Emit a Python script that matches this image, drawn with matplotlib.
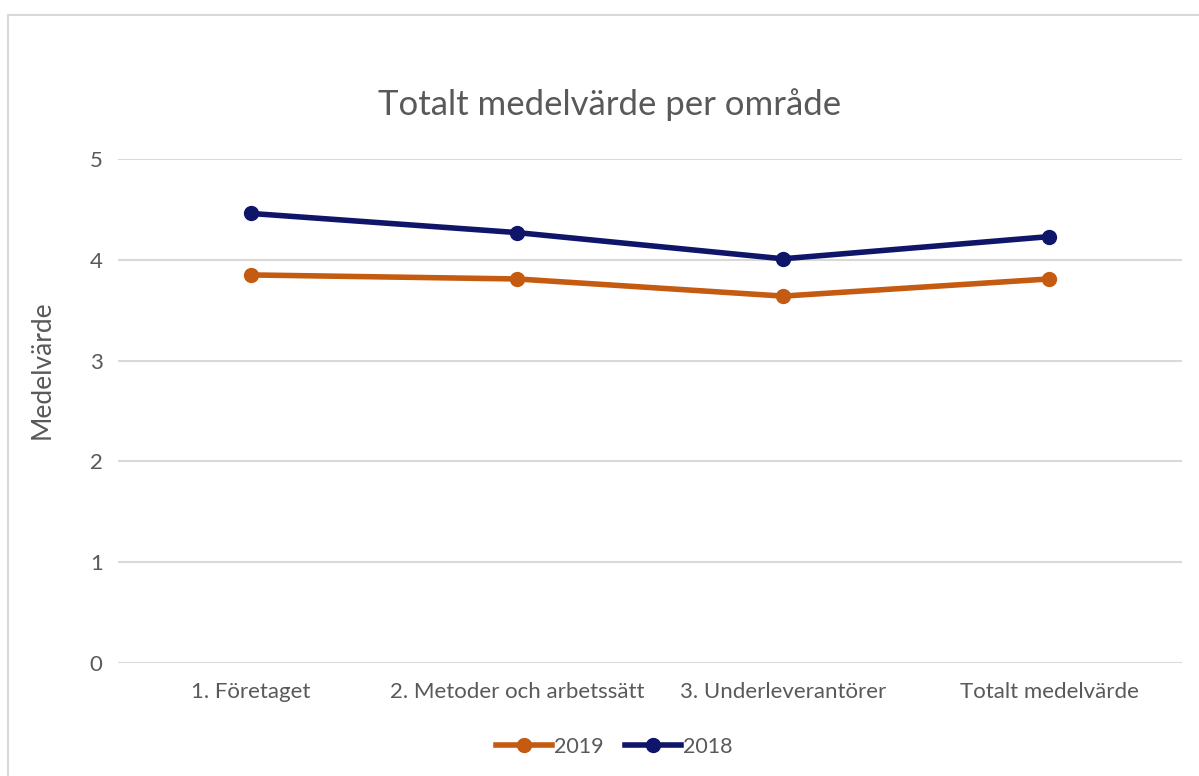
import matplotlib
matplotlib.use("Agg")
import matplotlib.pyplot as plt
from matplotlib.patches import Rectangle

categories = ["1. Företaget", "2. Metoder och arbetssätt", "3. Underleverantörer", "Totalt medelvärde"]
values_2019 = [3.85, 3.81, 3.64, 3.81]
values_2018 = [4.46, 4.27, 4.01, 4.23]
yticks = [0, 1, 2, 3, 4, 5]

plt.rcParams['font.family'] = ['Lato', 'DejaVu Sans']
txt = '#595959'
grid = '#D9D9D9'

fig = plt.figure(figsize=(11.99, 7.76), dpi=100)
W, H = 1199, 776
fig.patches.append(Rectangle((8 / W, -0.1), 1.2, 1 - 15 / H + 0.1, transform=fig.transFigure,
                             fill=False, edgecolor=grid, linewidth=1.5))

ax = fig.add_axes([118 / W, 1 - 663 / H, (1182 - 118) / W, (663 - 159) / H])
x = list(range(len(categories)))
ax.plot(x, values_2019, color='#C55A11', lw=4, marker='o', ms=10, label='2019', zorder=3)
ax.plot(x, values_2018, color='#0F1569', lw=4, marker='o', ms=10, label='2018', zorder=3)

ax.set_xlim(-0.5, len(categories) - 0.5)
ax.set_ylim(0, 5)
ax.set_yticks(yticks)
ax.set_xticks(x)
ax.set_xticklabels(categories)
ax.tick_params(axis='both', length=0, colors=txt, labelsize=16)
ax.tick_params(axis='y', pad=11)
ax.tick_params(axis='x', pad=14)
ax.grid(axis='y', color=grid, lw=1.5)
ax.set_axisbelow(True)
for s in ax.spines.values():
    s.set_visible(False)
fig.text(42 / W, 1 - 370 / H, 'Medelvärde', rotation=90, ha='center', va='center',
         color=txt, fontsize=19)
fig.text(610 / W, 1 - 105 / H, 'Totalt medelvärde per område', ha='center', va='center',
         color=txt, fontsize=25)
fig.legend(loc='center', bbox_to_anchor=(614 / W, 1 - 747 / H), ncol=2, frameon=False,
           fontsize=15.5, labelcolor=txt, handlelength=2.6, handletextpad=0.1, columnspacing=1.0)

fig.savefig('out.png', dpi=100)
